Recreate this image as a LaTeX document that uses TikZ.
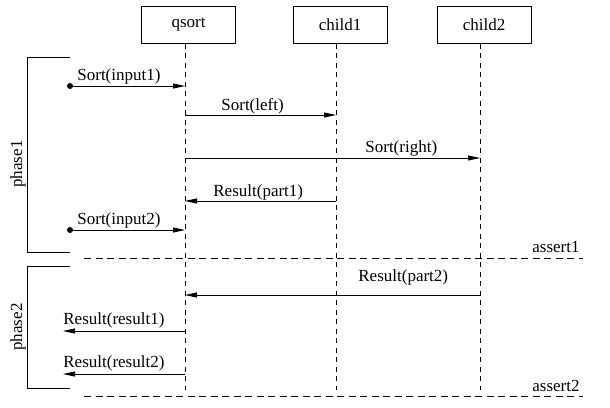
\documentclass[tikz,border=0pt]{standalone}
\usepackage{fontspec}
\setmainfont{Liberation Serif}
\usetikzlibrary{arrows.meta,calc,positioning}

\begin{document}
\begin{tikzpicture}[x=1pt,y=-1pt,>={Triangle[length=12pt,width=5pt]},line width=0.8pt,
  font={\fontsize{17}{20}\selectfont},
  obj/.style={draw,minimum width=94pt,minimum height=36.5pt,inner sep=0pt},
  lifeline/.style={dash pattern=on 5pt off 4.5pt},
  assertion/.style={dash pattern=on 7pt off 4.5pt},
  msg/.style={anchor=base west,inner sep=0pt},
  phase/.style={anchor=base,inner sep=0pt,rotate=90}]
\useasboundingbox (0,0) rectangle (610,407);
% objects
\node[obj] (qsort) at (188.5,25) {qsort};
\node[obj] (child1) at (340,25) {child1};
\node[obj] (child2) at (484,25) {child2};
% lifelines
\coordinate (qb) at (185,390);
\coordinate (c1b) at (336,390);
\coordinate (c2b) at (480,390);
\begin{scope}[lifeline]
\draw[] (qsort.south -| qb) -- (qb);
\draw[] (child1.south -| c1b) -- (c1b);
\draw[] (child2.south -| c2b) -- (c2b);
\end{scope}

% phase1 messages
\coordinate (in1) at (70,86);
\coordinate (in2) at (70,230);
\coordinate (left) at (185,115);
\coordinate (right) at (185,158);
\coordinate (part1) at (336,201);
\fill (in1) circle (3);
\fill (in2) circle (3);
\draw[->] (in1) -- (in1 -| qb);
\draw[->] (left) -- (left -| c1b);
\draw[->] (right) -- (right -| c2b);
\draw[->] (part1) -- (part1 -| qb);
\draw[->] (in2) -- (in2 -| qb);
\node[msg] (lin1) at (77,80) {Sort(input1)};
\node[msg] (lleft) at (221,110) {Sort(left)};
\node[msg] (lright) at (365,152) {Sort(right)};
\node[msg] (lpart1) at (213,196) {Result(part1)};
\node[msg] (lin2) at (77,224) {Sort(input2)};

% phase2 messages
\coordinate (part2) at (480,295);
\coordinate (res1) at (185,331);
\coordinate (res2) at (185,374);
\coordinate (out) at (63,0);
\draw[->] (part2) -- (part2 -| qb);
\draw[->] (res1) -- (res1 -| out);
\draw[->] (res2) -- (res2 -| out);
\node[msg] (lpart2) at (358,281) {Result(part2)};
\node[msg] (lres1) at (63,324) {Result(result1)};
\node[msg] (lres2) at (63,367) {Result(result2)};

% assertions
\coordinate (a1s) at (84,258);
\coordinate (a1e) at (583,258);
\coordinate (a2s) at (84,396);
\coordinate (a2e) at (583,396);
\draw[assertion] (a1s) -- (a1e);
\draw[assertion] (a2s) -- (a2e);
\node[msg] (la1) at (532,252) {assert1};
\node[msg] (la2) at (532,391) {assert2};

% phases
\draw[] (70,57) -- (27,57) -- (27,252) -- (70,252);
\draw[] (70,266) -- (27,266) -- (27,388) -- (70,388);
\node[phase] (ph1) at (22,164) {phase1};
\node[phase] (ph2) at (22,327) {phase2};
\end{tikzpicture}
\end{document}
